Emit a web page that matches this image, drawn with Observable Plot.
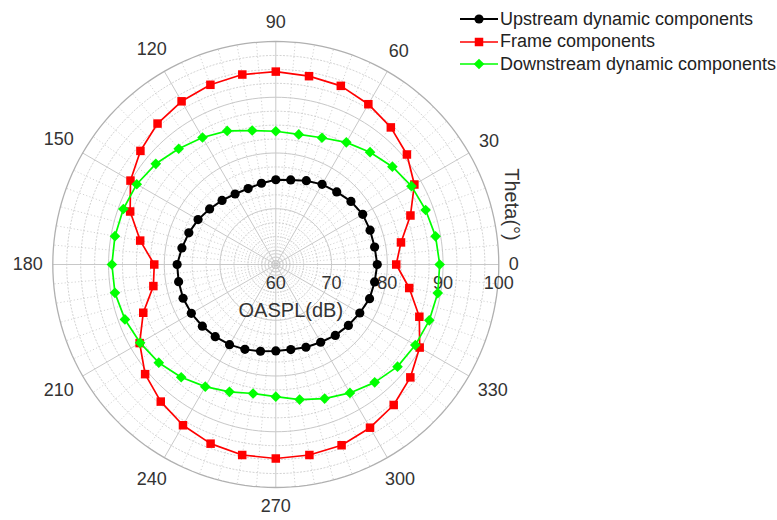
<!DOCTYPE html>
<html>
<head>
<meta charset="utf-8">
<script src="https://cdn.jsdelivr.net/npm/d3@7"></script>
<script src="https://cdn.jsdelivr.net/npm/@observablehq/plot@0.6"></script>
<style>
  body { margin: 0; background: #fff; font-family: "Liberation Sans", Arial, sans-serif; }
  #wrap { position: relative; width: 777px; height: 520px; }
  #legend { position: absolute; left: 459px; top: 8px; font-size: 18px; color: #222; }
  #legend .row { display: flex; align-items: center; height: 22.5px; white-space: nowrap; }
  #legend svg { margin-right: 1px; }
</style>
</head>
<body>
<div id="wrap">
  <div id="chart"></div>
  <div id="legend"></div>
</div>
<script>
// Emission angle theta (degrees)
const angles = [0, 10, 20, 30, 40, 50, 60, 70, 80, 90, 100, 110, 120, 130, 140, 150, 160, 170,
                180, 190, 200, 210, 220, 230, 240, 250, 260, 270, 280, 290, 300, 310, 320, 330, 340, 350];

// OASPL (dB) per angle
const upstream = [78.2, 78.0, 78.0, 78.0, 77.6, 77.0, 76.6, 76.0, 75.4, 75.2, 74.8, 74.5, 74.6, 75.0, 75.5, 76.1, 76.6, 77.1,
                  77.7, 77.7, 77.7, 77.5, 77.2, 76.9, 76.6, 76.2, 75.8, 75.5, 75.5, 75.8, 76.1, 76.6, 77.0, 77.4, 77.9, 78.0];
const frame = [81.6, 82.8, 85.7, 88.7, 90.7, 92.1, 93.2, 94.1, 94.3, 94.6, 94.6, 94.3, 93.8, 93.0, 91.7, 90.1, 87.8, 84.7,
               81.8, 82.3, 85.3, 88.2, 90.6, 92.1, 93.3, 94.2, 94.7, 94.8, 94.7, 94.5, 93.8, 92.9, 91.5, 89.8, 87.4, 84.3];
const downstream = [89.4, 89.1, 88.6, 88.1, 87.3, 86.3, 85.3, 84.2, 83.7, 83.9, 84.4, 85.5, 86.3, 87.1, 88.1, 88.8, 89.1, 89.3,
                    89.4, 89.3, 88.8, 88.1, 87.4, 86.4, 85.3, 84.3, 83.5, 83.7, 84.6, 85.6, 86.6, 87.6, 88.5, 88.9, 89.3, 89.5];

const seriesNames = ["Upstream dynamic components", "Frame components", "Downstream dynamic components"];
const seriesColors = ["#000000", "#ff0000", "#00ff00"];
const seriesSymbols = ["circle", "square", "diamond2"];
const seriesWidths = [2, 1.7, 1.7];
const seriesRadii = [4.6, 4.8, 4.8];

// Axis ticks
const thetaTicks = [0, 30, 60, 90, 120, 150, 180, 210, 240, 270, 300, 330];
const radialTicks = [60, 70, 80, 90, 100];
const rMin = 60, rMax = 100;

// Layout of the polar frame
const cx = 275.3, cy = 264, R = 223;
const span = rMax - rMin;
const k = R / span; // px per dB
const rad = a => a * Math.PI / 180;
const px = (a, v) => (v - rMin) * Math.cos(rad(a));
const py = (a, v) => (v - rMin) * Math.sin(rad(a));

// Series rows, closed back to the first angle
const seriesValues = [upstream, frame, downstream];
const rows = seriesNames.map((name, s) => {
  const pts = angles.map((a, i) => ({ name, a, v: seriesValues[s][i] }));
  return { name, pts, closed: [...pts, pts[0]] };
});

// Grid geometry
const majorRings = radialTicks.filter(v => v > rMin && v < rMax);
const minorRings = d3.range(rMin + 2.5, rMax, 2.5).filter(v => !radialTicks.includes(v));
const ringPoints = rings => rings.flatMap(v => d3.range(0, 361, 2).map(a => ({ v, a })));
const majorSpokes = thetaTicks;
const minorSpokes = d3.range(0, 360, 5).filter(a => a % 30 !== 0);

// angular labels sit just outside the rim, pushed out by half their extent
const labelPos = t => {
  const w = String(t).length * 10;
  const c = Math.abs(Math.cos(rad(t))), s = Math.abs(Math.sin(rad(t)));
  return (233 + c * w / 2 + s * 9) / k;
};

const chart = Plot.plot({
  width: 777,
  height: 520,
  x: { domain: [-span, span], range: [cx - R, cx + R] },
  y: { domain: [-span, span], range: [cy + R, cy - R] },
  axis: null,
  style: { fontFamily: "'Liberation Sans', Arial, sans-serif", background: "transparent", overflow: "visible" },
  marks: [
    // dotted minor grid
    Plot.line(ringPoints(minorRings), { x: d => px(d.a, d.v), y: d => py(d.a, d.v), z: "v",
      stroke: "#c8c8c8", strokeWidth: 0.8, strokeDasharray: "1.2,2.2" }),
    Plot.link(minorSpokes, { x1: () => 0, y1: () => 0, x2: a => px(a, rMax), y2: a => py(a, rMax),
      stroke: "#c8c8c8", strokeWidth: 0.8, strokeDasharray: "1.2,2.2" }),
    // solid major grid
    Plot.line(ringPoints(majorRings), { x: d => px(d.a, d.v), y: d => py(d.a, d.v), z: "v",
      stroke: "#c8c8c8", strokeWidth: 1 }),
    Plot.link(majorSpokes, { x1: () => 0, y1: () => 0, x2: a => px(a, rMax), y2: a => py(a, rMax),
      stroke: "#c8c8c8", strokeWidth: 1 }),
    Plot.line(ringPoints([rMax]), { x: d => px(d.a, d.v), y: d => py(d.a, d.v),
      stroke: "#b0b0b0", strokeWidth: 1.3 }),
    // radial tick labels
    Plot.text(radialTicks, { x: v => v - rMin, y: () => 0, text: v => String(v), dy: 19,
      fontSize: 18, fill: "#333" }),
    // angular tick labels
    Plot.text(thetaTicks, { x: t => labelPos(t) * Math.cos(rad(t)), y: t => labelPos(t) * Math.sin(rad(t)),
      text: t => String(t), fontSize: 18, fill: "#333" }),
    // axis titles
    Plot.text(["Theta(°)"], { x: () => 0, y: () => 0, dx: 236, dy: -60, rotate: 90, fontSize: 20, fill: "#333" }),
    Plot.text(["OASPL(dB)"], { x: () => 0, y: () => 0, dx: 15, dy: 46, fontSize: 20, fill: "#333" }),
    // series
    ...rows.flatMap((r, s) => [
      Plot.line(r.closed, { x: d => px(d.a, d.v), y: d => py(d.a, d.v),
        stroke: seriesColors[s], strokeWidth: seriesWidths[s] }),
      Plot.dot(r.pts, { x: d => px(d.a, d.v), y: d => py(d.a, d.v), symbol: () => seriesSymbols[s],
        fill: seriesColors[s], stroke: "none", r: seriesRadii[s] })
    ])
  ]
});
document.getElementById("chart").appendChild(chart);

// Legend: line with marker, then name
const legend = d3.select("#legend");
seriesNames.forEach((name, s) => {
  const row = legend.append("div").attr("class", "row");
  const sw = row.append("svg").attr("width", 40).attr("height", 20);
  sw.append("line").attr("x1", 1).attr("x2", 39).attr("y1", 10).attr("y2", 10)
    .attr("stroke", seriesColors[s]).attr("stroke-width", seriesWidths[s]);
  const rr = seriesRadii[s];
  if (s === 0) {
    sw.append("circle").attr("cx", 20).attr("cy", 10).attr("r", rr).attr("fill", seriesColors[s]);
  } else {
    const sym = d3.symbol(s === 1 ? d3.symbolSquare : d3.symbolDiamond2, rr * rr * Math.PI);
    sw.append("path").attr("d", sym()).attr("transform", "translate(20,10)").attr("fill", seriesColors[s]);
  }
  row.append("span").text(name);
});
</script>
</body>
</html>
